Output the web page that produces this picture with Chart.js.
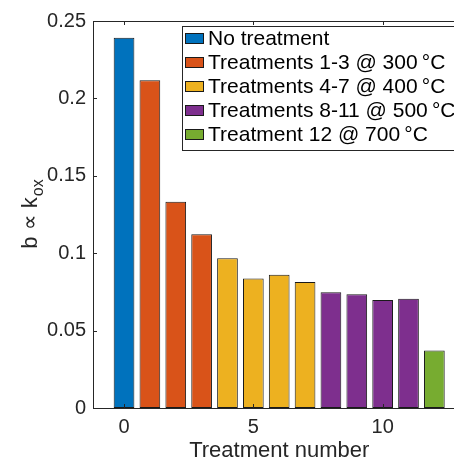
<!DOCTYPE html>
<html>
<head>
<meta charset="utf-8">
<script src="https://cdn.jsdelivr.net/npm/chart.js@4"></script>
<style>
  html, body { margin: 0; padding: 0; background: #fff; overflow: hidden; }
  #wrap { width: 480px; height: 460px; }
</style>
</head>
<body>
<div id="wrap"><canvas id="chart"></canvas></div>
<script>
  /* ---------- data ---------- */
  var treatments = [0, 1, 2, 3, 4, 5, 6, 7, 8, 9, 10, 11, 12];
  var kox = [0.2392, 0.2117, 0.1333, 0.1122, 0.0968, 0.0836, 0.0860,
             0.0814, 0.0748, 0.0735, 0.0697, 0.0705, 0.0372];

  var groupLabels = [
    "No treatment",
    "Treatments 1-3 @ 300\u2009°C",
    "Treatments 4-7 @ 400\u2009°C",
    "Treatments 8-11 @ 500\u2009°C",
    "Treatment 12 @ 700\u2009°C"
  ];
  var groupFirst = [0, 1, 4, 8, 12];
  var groupLast = [0, 3, 7, 11, 12];
  var groupColors = ["#0072BD", "#D95319", "#EDB120", "#7E2F8E", "#77AC30"];

  var xTicks = [0, 5, 10];
  var yTicks = [0, 0.05, 0.1, 0.15, 0.2, 0.25];

  var FONT = '"Liberation Sans", Arial, Helvetica, sans-serif';
  var AXIS = "#262626";

  var datasets = groupLabels.map(function (label, g) {
    var pts = [];
    treatments.forEach(function (t, i) {
      if (t >= groupFirst[g] && t <= groupLast[g]) pts.push({ x: t, y: kox[i] });
    });
    return {
      label: label,
      data: pts,
      backgroundColor: groupColors[g],
      borderColor: "#1a1a1a",
      borderWidth: 1,
      borderSkipped: false,
      grouped: false,
      barPercentage: 0.8,
      categoryPercentage: 1.0
    };
  });

  /* ---------- inside ticks, box, legend, y label ---------- */
  var matlabDecor = {
    id: "matlabDecor",
    afterDatasetsDraw: function (chart) {
      var ctx = chart.ctx;
      var a = chart.chartArea;
      var xs = chart.scales.x, ys = chart.scales.y;
      var tl = 4;
      ctx.save();
      ctx.strokeStyle = AXIS;
      ctx.lineWidth = 1;
      ctx.beginPath();
      // top and right box lines
      ctx.moveTo(a.left, a.top + 0.5);
      ctx.lineTo(a.right, a.top + 0.5);
      ctx.moveTo(a.right - 0.5, a.top);
      ctx.lineTo(a.right - 0.5, a.bottom);
      xTicks.forEach(function (v) {
        var px = Math.round(xs.getPixelForValue(v)) + 0.5;
        ctx.moveTo(px, a.bottom);
        ctx.lineTo(px, a.bottom - tl);
        ctx.moveTo(px, a.top);
        ctx.lineTo(px, a.top + tl);
      });
      yTicks.forEach(function (v) {
        var py = Math.round(ys.getPixelForValue(v)) + 0.5;
        ctx.moveTo(a.left, py);
        ctx.lineTo(a.left + tl, py);
        ctx.moveTo(a.right, py);
        ctx.lineTo(a.right - tl, py);
      });
      ctx.stroke();

      // legend
      var lx = 182.5, ly = 26.5, lw = 320, lh = 124;
      ctx.fillStyle = "#fff";
      ctx.fillRect(lx, ly, lw, lh);
      ctx.strokeStyle = AXIS;
      ctx.strokeRect(lx, ly, lw, lh);
      ctx.font = "21px " + FONT;
      ctx.textBaseline = "middle";
      ctx.textAlign = "left";
      chart.data.datasets.forEach(function (ds, i) {
        var cy = 38.5 + i * 24;
        ctx.fillStyle = ds.backgroundColor;
        ctx.fillRect(185.5, cy - 5, 18, 10);
        ctx.strokeStyle = "#1a1a1a";
        ctx.strokeRect(185.5, cy - 5, 18, 10);
        ctx.fillStyle = "#000";
        ctx.fillText(ds.label, 208, cy + 1);
      });

      // y label with subscript
      ctx.save();
      ctx.translate(37, (a.top + a.bottom) / 2);
      ctx.rotate(-Math.PI / 2);
      ctx.fillStyle = AXIS;
      ctx.textBaseline = "alphabetic";
      var main = "b \u221D k", sub = "ox";
      ctx.font = "22px " + FONT;
      var w1 = ctx.measureText(main).width;
      ctx.font = "16px " + FONT;
      var w2 = ctx.measureText(sub).width;
      var x0 = -(w1 + w2) / 2;
      ctx.font = "22px " + FONT;
      ctx.fillText(main, x0, 0);
      ctx.font = "16px " + FONT;
      ctx.fillText(sub, x0 + w1 + 1, 6);
      ctx.restore();

      ctx.restore();
    }
  };

  new Chart(document.getElementById("chart"), {
    type: "bar",
    data: { datasets: datasets },
    options: {
      responsive: true,
      maintainAspectRatio: false,
      animation: false,
      layout: { padding: { top: 21, right: 14.6, left: 0, bottom: 0 } },
      plugins: {
        legend: { display: false },
        tooltip: { enabled: false }
      },
      scales: {
        x: {
          type: "linear",
          min: -1.2,
          max: 13.2,
          offset: false,
          grid: { display: false, offset: false, drawTicks: false },
          border: { display: true, color: AXIS, width: 1 },
          afterBuildTicks: function (s) {
            s.ticks = xTicks.map(function (v) { return { value: v }; });
          },
          afterFit: function (s) { s.height = 52; },
          ticks: {
            color: AXIS,
            font: { family: FONT, size: 20 },
            padding: 7,
            maxRotation: 0
          },
          title: {
            display: true,
            text: "Treatment number",
            color: AXIS,
            font: { family: FONT, size: 22, lineHeight: 0.8 },
            padding: { top: 0, bottom: 0 }
          }
        },
        y: {
          min: 0,
          max: 0.25,
          grid: { display: false, drawTicks: false },
          border: { display: true, color: AXIS, width: 1 },
          afterBuildTicks: function (s) {
            s.ticks = yTicks.map(function (v) { return { value: v }; });
          },
          afterFit: function (s) { s.width = 93; },
          ticks: {
            color: AXIS,
            font: { family: FONT, size: 20 },
            padding: 7,
            callback: function (v) { return String(+Number(v).toFixed(2)); }
          }
        }
      }
    },
    plugins: [matlabDecor]
  });
</script>
</body>
</html>
